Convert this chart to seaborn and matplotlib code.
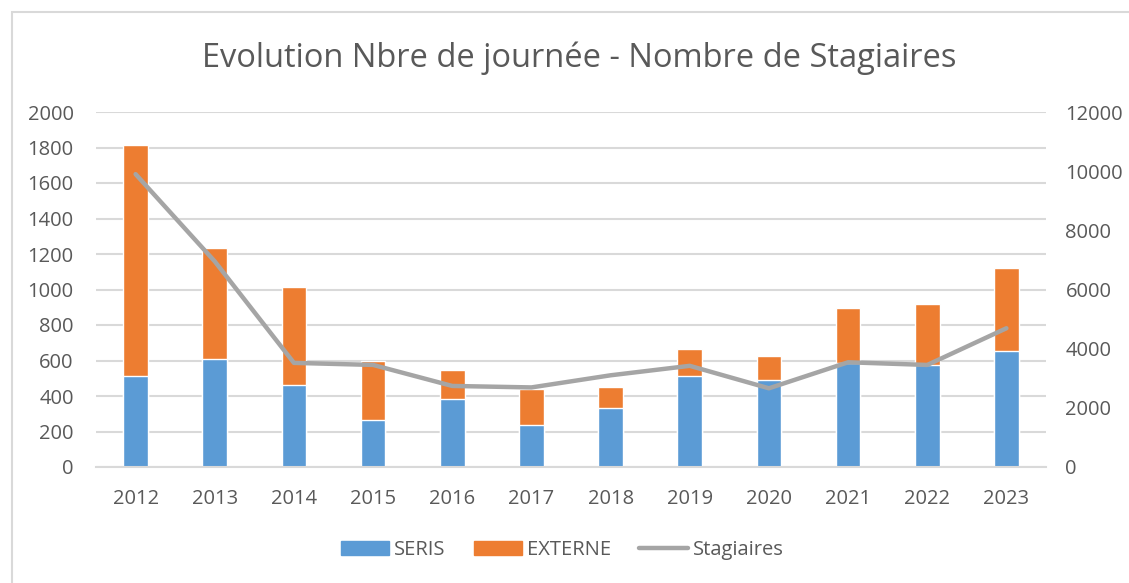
import numpy as np
import pandas as pd
import matplotlib
matplotlib.use("Agg")
import matplotlib.pyplot as plt
from matplotlib.patches import Rectangle, Patch
from matplotlib.lines import Line2D
import seaborn as sns

# values
years = ["2012", "2013", "2014", "2015", "2016", "2017", "2018", "2019", "2020", "2021", "2022", "2023"]
seris = [513, 607, 462, 265, 381, 237, 331, 513, 490, 584, 575, 655]
externe = [1301, 627, 554, 332, 165, 201, 121, 150, 135, 310, 342, 468]
stagiaires = [9900, 6950, 3520, 3450, 2740, 2690, 3100, 3420, 2660, 3540, 3450, 4690]

blue = "#5b9bd5"
orange = "#ed7d31"
grey = "#a5a5a5"
txt = "#595959"

sns.set_theme(style="white")
plt.rcParams["font.family"] = ["Open Sans", "DejaVu Sans"]

df = pd.DataFrame({"year": years, "SERIS": seris, "EXTERNE": externe, "Stagiaires": stagiaires})
df["total"] = df["SERIS"] + df["EXTERNE"]

W, H = 1129, 583
fig = plt.figure(figsize=(W / 100, H / 100), dpi=100)
ax = fig.add_axes([96 / W, 1 - 467 / H, (1046 - 96) / W, (467 - 112) / H])

sns.barplot(data=df, x="year", y="total", color=orange, width=0.31, saturation=1, ax=ax)
sns.barplot(data=df, x="year", y="SERIS", color=blue, width=0.31, saturation=1, ax=ax)

ax.set_ylim(0, 2000)
ax.set_yticks(range(0, 2001, 200))
ax.set_xlim(-0.5, 11.5)
ax.yaxis.grid(True, color="#d9d9d9", linewidth=1.5)
ax.set_axisbelow(True)
for s in ["top", "left", "right"]:
    ax.spines[s].set_visible(False)
ax.spines["bottom"].set_color("#d9d9d9")
ax.spines["bottom"].set_linewidth(1.5)
ax.set_xlabel("")
ax.set_ylabel("")
ax.tick_params(axis="both", length=0, labelsize=14.5, colors=txt)
ax.tick_params(axis="x", pad=16)
ax.tick_params(axis="y", pad=16)

ax2 = ax.twinx()
sns.lineplot(x=np.arange(len(years)), y=df["Stagiaires"], color=grey, linewidth=3.2, ax=ax2)
ax2.set_ylim(0, 12000)
ax2.set_yticks(range(0, 12001, 2000))
for s in ax2.spines.values():
    s.set_visible(False)
ax2.set_ylabel("")
ax2.tick_params(axis="y", length=0, labelsize=14.5, colors=txt, pad=14)
ax2.grid(False)

fig.text(579 / W, 1 - 58 / H, "Evolution Nbre de journée - Nombre de Stagiaires",
         ha="center", va="center", fontsize=23.5, color=txt)

handles = [Patch(color=blue, label="SERIS"), Patch(color=orange, label="EXTERNE"),
           Line2D([0], [0], color=grey, linewidth=3.2, label="Stagiaires")]
fig.legend(handles=handles, loc="center", bbox_to_anchor=(562 / W, 1 - 550 / H), ncol=3,
           frameon=False, fontsize=14.5, labelcolor=txt, handlelength=2.4, handleheight=0.65,
           columnspacing=1.4, handletextpad=0.25)

fig.patches.append(Rectangle((12 / W, -0.05), 1.1, 1 - 12 / H + 0.05, transform=fig.transFigure,
                             fill=False, edgecolor="#d9d9d9", linewidth=1.5))

fig.savefig("out.png", dpi=100)
